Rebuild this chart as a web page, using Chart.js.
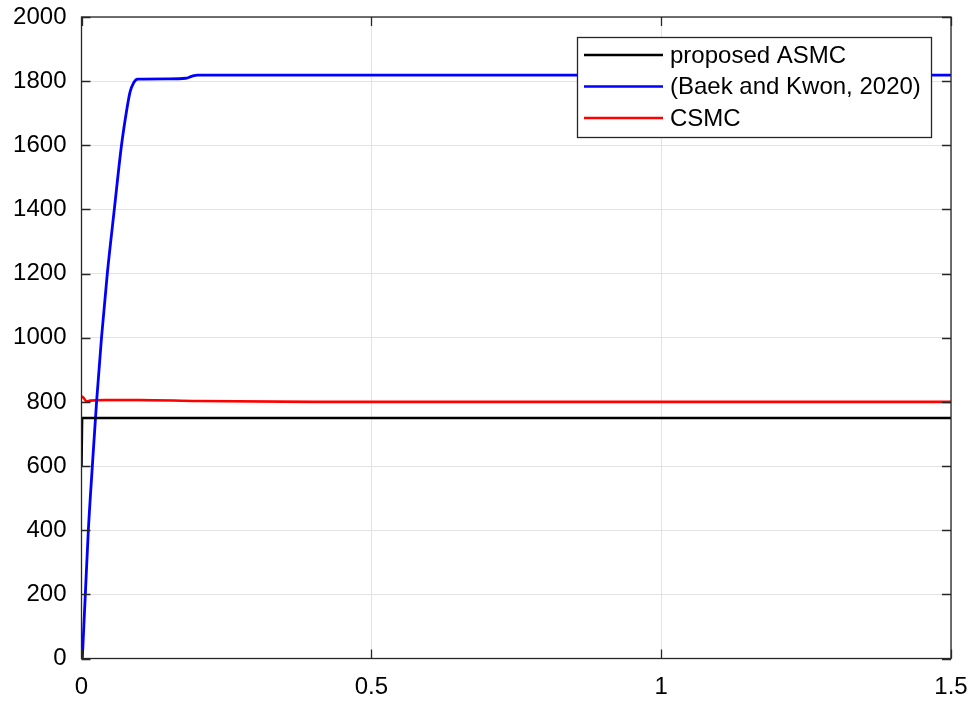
<!DOCTYPE html>
<html>
<head>
<meta charset="utf-8">
<script src="https://cdn.jsdelivr.net/npm/chart.js@4/dist/chart.umd.min.js"></script>
<style>
  html, body { margin: 0; padding: 0; background: #fff; }
  #wrap { width: 972px; height: 704px; position: relative; }
</style>
</head>
<body>
<div id="wrap"><canvas id="chart"></canvas></div>
<script>
// series labels
var seriesNames = ["proposed ASMC", "(Baek and Kwon, 2020)", "CSMC"];

// proposed ASMC
var asmcX = [0, 0.001, 1.5];
var asmcY = [600, 750, 750];

// Baek and Kwon, 2020
var baekX = [0.0014, 0.0066, 0.0118, 0.0187, 0.026, 0.0345, 0.0445, 0.0566, 0.069, 0.078, 0.0836, 0.09, 0.097, 0.15, 0.18, 0.19, 0.2, 1.5];
var baekY = [0, 200, 400, 600, 800, 1000, 1200, 1400, 1600, 1710, 1765, 1795, 1806, 1807, 1809, 1815, 1819, 1819];

// CSMC
var csmcX = [0, 0.004, 0.009, 0.015, 0.04, 0.1, 0.2, 0.4, 1.5];
var csmcY = [818, 812, 801, 804, 806, 806, 803, 800, 800];

// axis ticks
var xTicks = [0, 0.5, 1, 1.5];
var yTicks = [0, 200, 400, 600, 800, 1000, 1200, 1400, 1600, 1800, 2000];

function pts(xs, ys) {
  return xs.map(function (x, i) { return { x: x, y: ys[i] }; });
}

var FONT = "'Liberation Sans', Arial, sans-serif";

// frame, inner ticks and boxed legend, MATLAB style
var framePlugin = {
  id: "frame",
  afterDraw: function (chart) {
    var c = chart.ctx, a = chart.chartArea;
    var xs = chart.scales.x, ys = chart.scales.y;
    c.save();
    c.strokeStyle = "#262626";
    c.lineWidth = 1.3;
    c.strokeRect(a.left, a.top, a.right - a.left, a.bottom - a.top);
    c.beginPath();
    yTicks.forEach(function (v) {
      var p = Math.round(ys.getPixelForValue(v)) + 0.5;
      c.moveTo(a.left, p); c.lineTo(a.left + 9, p);
      c.moveTo(a.right, p); c.lineTo(a.right - 9, p);
    });
    xTicks.forEach(function (v) {
      var p = Math.round(xs.getPixelForValue(v)) + 0.5;
      c.moveTo(p, a.bottom); c.lineTo(p, a.bottom - 9);
      c.moveTo(p, a.top); c.lineTo(p, a.top + 9);
    });
    c.stroke();

    // legend box
    var lx = 577, ly = 37, lw = 354, lh = 100;
    c.fillStyle = "#fff";
    c.fillRect(lx, ly, lw, lh);
    c.strokeStyle = "#262626";
    c.lineWidth = 1.3;
    c.strokeRect(lx + 0.5, ly + 0.5, lw, lh);
    c.font = "24px " + FONT;
    c.textBaseline = "middle";
    chart.data.datasets.forEach(function (ds, i) {
      var yy = 55 + i * 31.5;
      c.strokeStyle = ds.borderColor;
      c.lineWidth = 2.5;
      c.beginPath();
      c.moveTo(584, yy); c.lineTo(663, yy);
      c.stroke();
      c.fillStyle = "#000";
      c.fillText(ds.label, 670, yy + 1);
    });
    c.restore();
  }
};

function plain(v) { return String(v); }

new Chart(document.getElementById("chart"), {
  type: "line",
  data: {
    datasets: [
      { label: seriesNames[0], data: pts(asmcX, asmcY), borderColor: "#000000", borderWidth: 2.6, pointRadius: 0, tension: 0 },
      { label: seriesNames[1], data: pts(baekX, baekY), borderColor: "#0000ff", borderWidth: 2.8, pointRadius: 0, cubicInterpolationMode: "monotone" },
      { label: seriesNames[2], data: pts(csmcX, csmcY), borderColor: "#ff0000", borderWidth: 2.6, pointRadius: 0, cubicInterpolationMode: "monotone" }
    ]
  },
  options: {
    responsive: true,
    maintainAspectRatio: false,
    animation: false,
    layout: { padding: { top: 17, right: 21, left: 0, bottom: 0 } },
    plugins: { legend: { display: false }, tooltip: { enabled: false } },
    scales: {
      x: {
        type: "linear",
        min: 0, max: 1.5,
        afterBuildTicks: function (s) { s.ticks = xTicks.map(function (v) { return { value: v }; }); },
        afterFit: function (s) { s.height = 45.5; s.paddingLeft = 0; s.paddingRight = 0; },
        border: { display: false },
        grid: { color: "#e3e3e3", lineWidth: 1, drawTicks: false },
        ticks: { color: "#000", padding: 14, font: { family: FONT, size: 24 }, maxRotation: 0, callback: plain }
      },
      y: {
        type: "linear",
        min: 0, max: 2000,
        afterBuildTicks: function (s) { s.ticks = yTicks.map(function (v) { return { value: v }; }); },
        afterFit: function (s) { s.width = 81.5; s.paddingTop = 0; s.paddingBottom = 0; },
        border: { display: false },
        grid: { color: "#e3e3e3", lineWidth: 1, drawTicks: false },
        ticks: { color: "#000", padding: 15, font: { family: FONT, size: 24 }, callback: plain }
      }
    }
  },
  plugins: [framePlugin]
});
</script>
</body>
</html>
